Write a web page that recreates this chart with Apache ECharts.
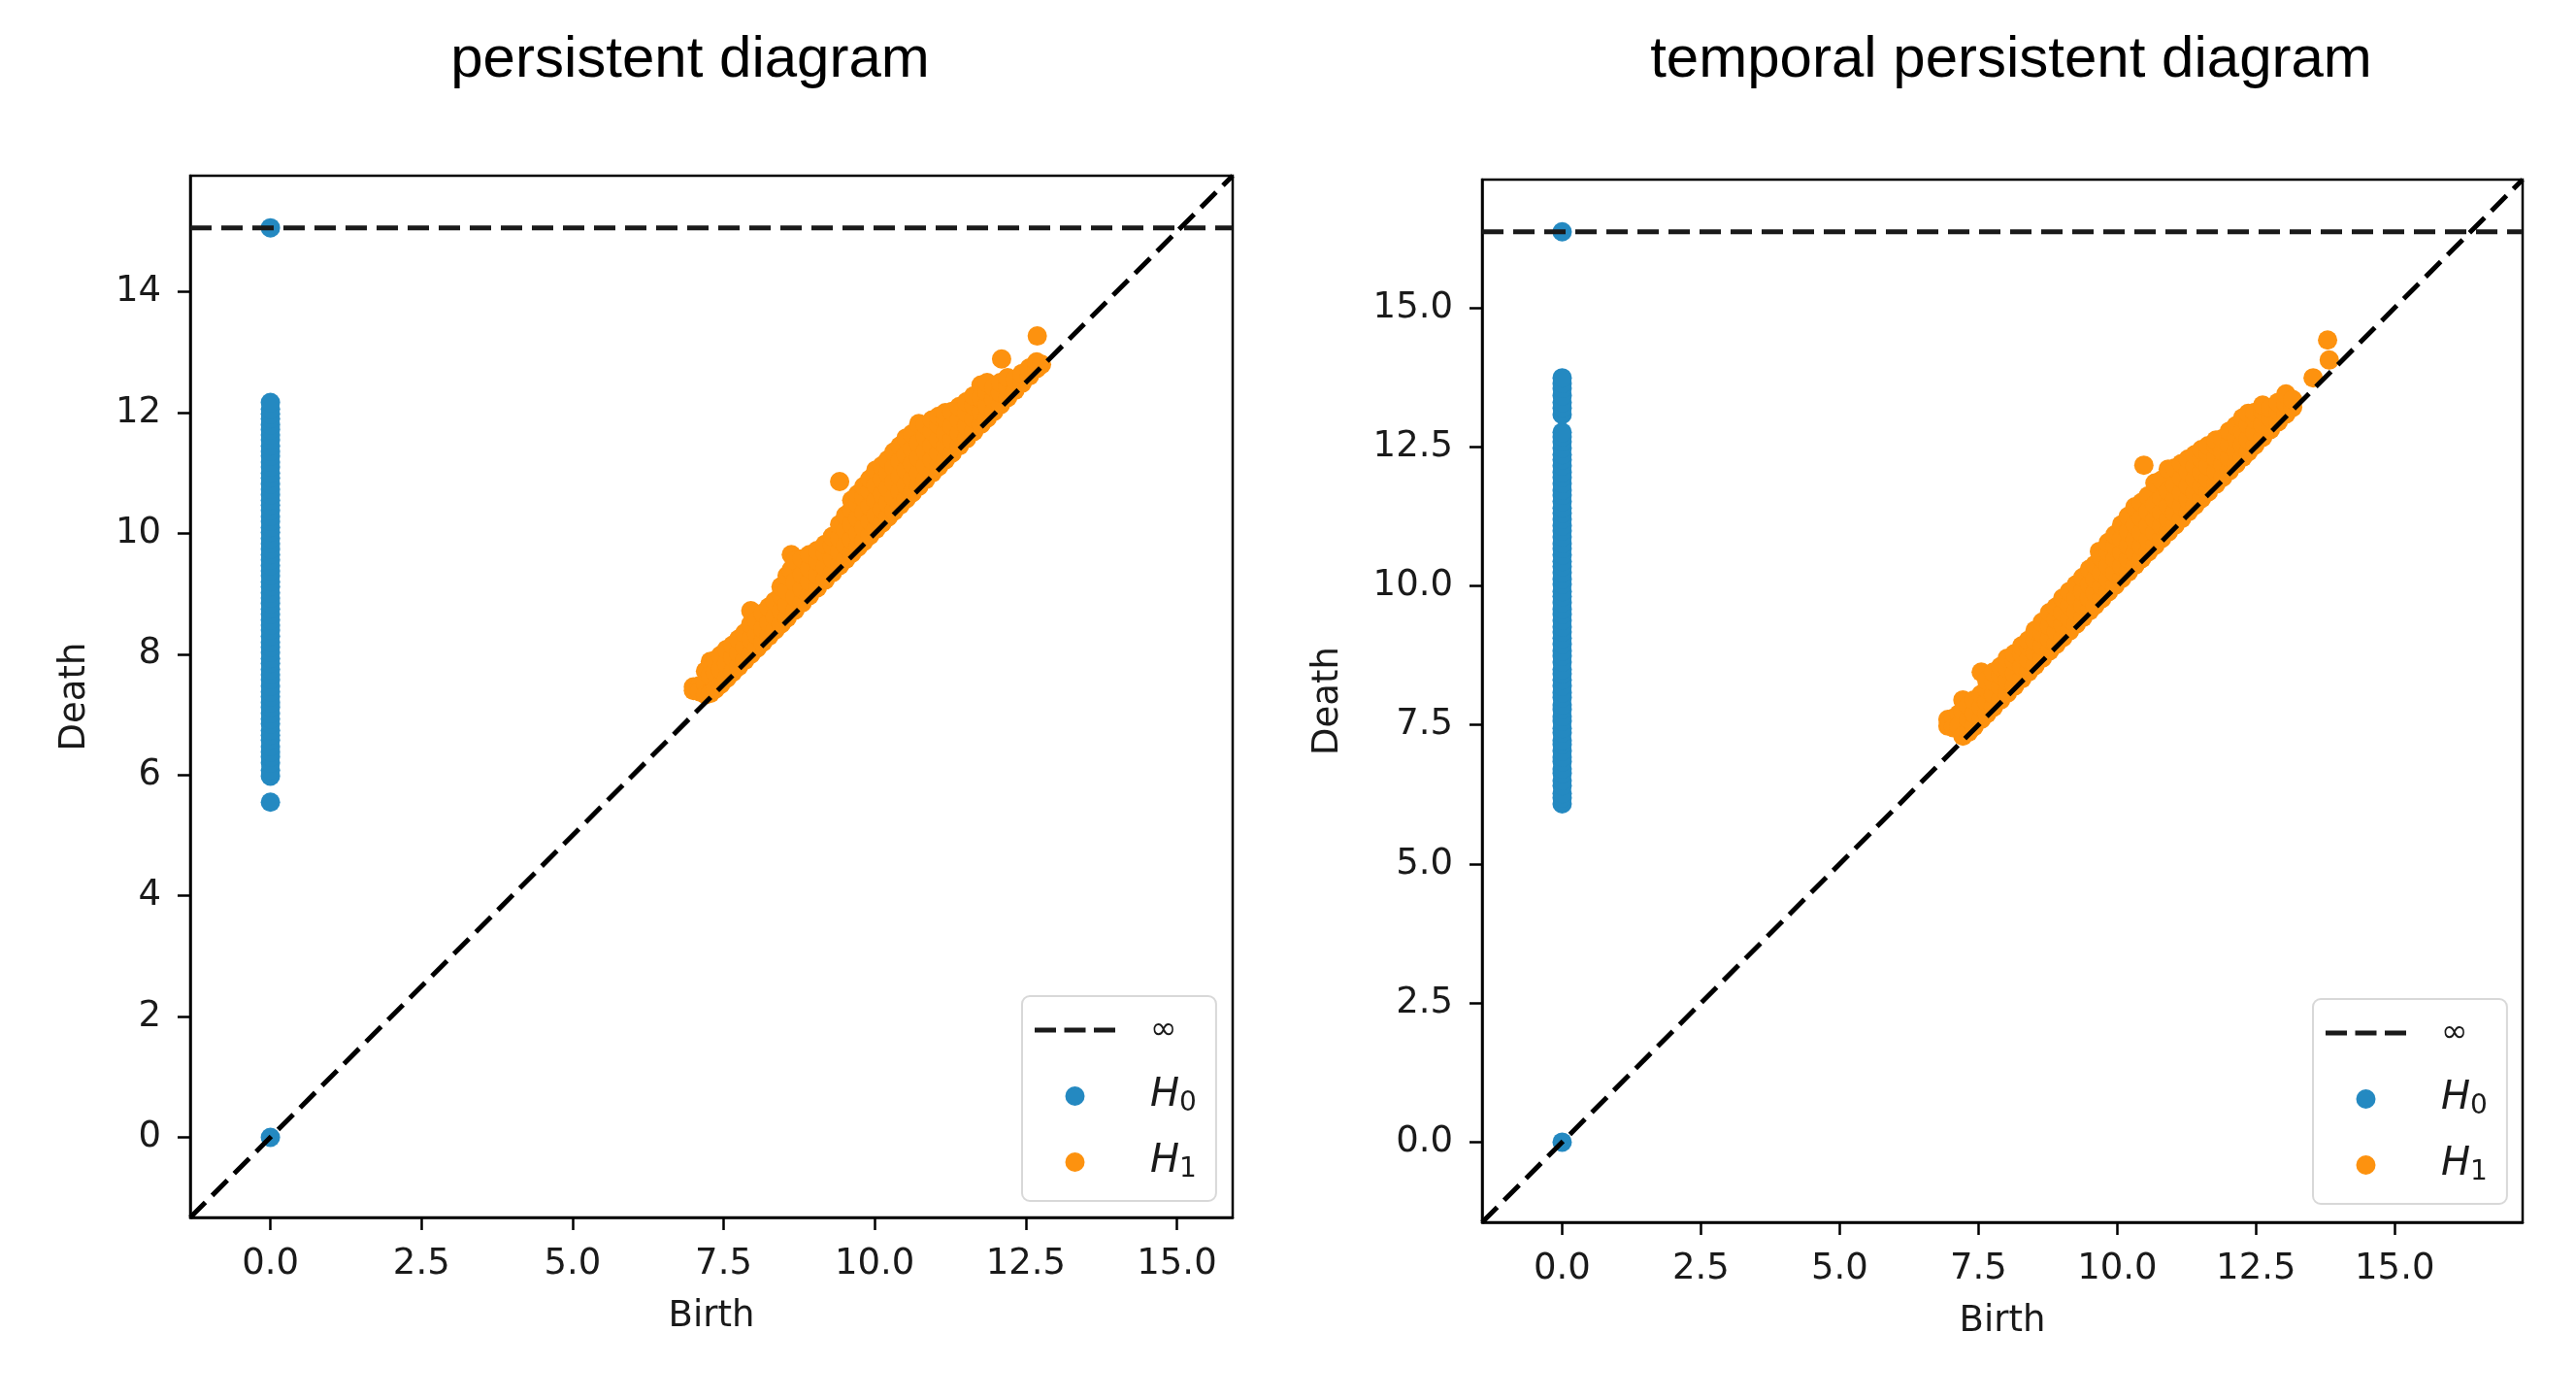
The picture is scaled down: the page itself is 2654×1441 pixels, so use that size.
<!DOCTYPE html>
<html>
<head>
<meta charset="utf-8">
<script src="https://cdn.jsdelivr.net/npm/echarts@6/dist/echarts.min.js"></script>
<style>
html,body{margin:0;padding:0;background:#ffffff;}
#c{width:2654px;height:1441px;}
</style>
</head>
<body>
<div id="c"></div>
<script>
// ---------- data ----------
const titles = ['persistent diagram', 'temporal persistent diagram'];
const legendNames = ['∞', 'H0', 'H1'];
const xTicks = [0, 2.5, 5, 7.5, 10, 12.5, 15];
const yTicksLeft = [0, 2, 4, 6, 8, 10, 12, 14];
const yTicksRight = [0, 2.5, 5, 7.5, 10, 12.5, 15];

// H0 deaths (birth = 0); Infinity = essential class
const h0DeathLeft = [0, 5.55, 5.98, 6.08, 6.2, 6.3, 6.38, 6.47, 6.58, 6.66, 6.74, 6.85, 6.93, 7.02, 7.12, 7.2, 7.3,
  7.38, 7.47, 7.58, 7.66, 7.75, 7.85, 7.93, 8.03, 8.12, 8.2, 8.3, 8.4, 8.48, 8.57, 8.66, 8.75, 8.84, 8.93, 9.02,
  9.12, 9.2, 9.3, 9.38, 9.47, 9.56, 9.65, 9.74, 9.83, 9.92, 10.02, 10.1, 10.2, 10.28, 10.38, 10.47, 10.55, 10.64,
  10.73, 10.82, 10.92, 11.0, 11.1, 11.18, 11.28, 11.36, 11.45, 11.55, 11.63, 11.72, 11.8, 11.9, 11.98, 12.06, 12.17,
  Infinity];
const h0DeathRight = [0, 6.08, 6.19, 6.27, 6.41, 6.5, 6.63, 6.71, 6.84, 6.92, 7.03, 7.15, 7.22, 7.36, 7.44, 7.57,
  7.65, 7.78, 7.86, 7.99, 8.08, 8.2, 8.31, 8.42, 8.5, 8.63, 8.74, 8.83, 8.95, 9.06, 9.17, 9.26, 9.38, 9.49, 9.58,
  9.7, 9.81, 9.9, 10.03, 10.12, 10.24, 10.35, 10.44, 10.56, 10.67, 10.76, 10.88, 10.99, 11.08, 11.2, 11.31, 11.4,
  11.52, 11.63, 11.72, 11.84, 11.95, 12.04, 12.16, 12.27, 12.36, 12.48, 12.59, 12.68, 12.76, 13.08, 13.2, 13.3,
  13.42, 13.55, 13.64, 13.74, Infinity];

// H1 points grouped by birth: [birth, [deaths...]]
const h1ColsLeft = [
  [7.00,[7.46,7.40]],[7.10,[7.48,7.38]],[7.20,[7.52,7.33,7.72]],[7.28,[7.88,7.65,7.35]],
  [7.36,[7.42,7.70,7.90]],[7.45,[7.50,7.75,7.98]],[7.55,[7.60,7.85,8.08]],[7.65,[7.70,7.95,8.15]],
  [7.75,[7.80,8.02,8.25]],[7.85,[7.90,8.12,8.35]],[7.95,[8.00,8.25,8.50,8.72]],[8.05,[8.10,8.32,8.55]],
  [8.15,[8.20,8.42,8.68]],[8.25,[8.30,8.52,8.78]],[8.35,[8.40,8.62,8.88]],[8.45,[8.50,8.72,8.98,9.12]],
  [8.55,[8.60,8.82,9.05,9.30]],[8.62,[9.40,9.65]],[8.68,[8.73,8.95,9.20,9.55]],[8.80,[8.85,9.08,9.32,9.58]],
  [8.92,[8.97,9.20,9.42,9.65]],[9.05,[9.10,9.32,9.55,9.72]],[9.18,[9.23,9.45,9.68,9.82]],
  [9.30,[9.35,9.58,9.80,9.95]],[9.42,[9.47,9.70,9.92,10.15,10.86]],[9.52,[9.57,9.80,10.05,10.30]],
  [9.62,[9.67,9.90,10.15,10.40,10.55]],[9.72,[9.77,10.00,10.25,10.50,10.65]],
  [9.82,[9.87,10.10,10.35,10.60,10.78]],[9.92,[9.97,10.20,10.45,10.70,10.90]],
  [10.02,[10.07,10.30,10.55,10.80,11.05]],[10.12,[10.17,10.40,10.65,10.90,11.12]],
  [10.22,[10.27,10.50,10.75,11.00,11.22]],[10.32,[10.37,10.60,10.85,11.10,11.35]],
  [10.42,[10.47,10.70,10.95,11.20,11.45]],[10.52,[10.57,10.80,11.05,11.30,11.58]],
  [10.62,[10.67,10.90,11.15,11.40,11.65]],[10.73,[10.78,11.00,11.25,11.50,11.82]],
  [10.84,[10.89,11.12,11.36,11.60,11.80]],[10.95,[11.00,11.22,11.46,11.70,11.88]],
  [11.06,[11.11,11.33,11.56,11.80,11.94]],[11.17,[11.22,11.44,11.66,11.90,12.00]],
  [11.28,[11.33,11.55,11.78,12.02]],[11.40,[11.45,11.66,11.88,12.10]],[11.52,[11.57,11.78,12.00,12.18]],
  [11.64,[11.69,11.90,12.12,12.28]],[11.76,[11.81,12.02,12.24,12.46]],[11.86,[11.91,12.12,12.34,12.50]],
  [11.97,[12.02,12.22,12.42]],[12.08,[12.13,12.33,12.50]],[12.10,[12.89]],[12.20,[12.25,12.44,12.58]],
  [12.32,[12.37,12.55]],[12.44,[12.49,12.65]],[12.56,[12.61,12.74]],[12.68,[12.73,12.84]],
  [12.69,[13.27]],[12.76,[12.80]]
];
const h1ColsRight = [
  [6.95,[7.60,7.48]],[7.05,[7.62,7.45]],[7.15,[7.70,7.48]],[7.22,[7.95,7.75,7.30]],
  [7.32,[7.37,7.60,7.85]],[7.42,[7.47,7.70,7.95]],[7.55,[7.60,7.82,8.05,8.45]],[7.65,[7.70,7.92,8.15,8.30]],
  [7.77,[7.82,8.05,8.28,8.45]],[7.90,[7.95,8.18,8.40,8.55]],[8.02,[8.07,8.30,8.52,8.70]],
  [8.15,[8.20,8.42,8.65,8.78]],[8.28,[8.33,8.55,8.78,8.92]],[8.40,[8.45,8.68,8.90,9.02]],
  [8.52,[8.57,8.80,9.02,9.20]],[8.65,[8.70,8.92,9.15,9.35]],[8.78,[8.83,9.05,9.28,9.52]],
  [8.90,[8.95,9.18,9.40,9.62]],[9.02,[9.07,9.30,9.52,9.78]],[9.14,[9.19,9.42,9.65,9.90]],
  [9.26,[9.31,9.54,9.78,10.02]],[9.38,[9.43,9.66,9.90,10.15]],[9.50,[9.55,9.78,10.02,10.30]],
  [9.60,[9.65,9.88,10.12,10.38]],[9.68,[10.62]],[9.72,[9.77,10.00,10.24,10.50]],
  [9.84,[9.89,10.12,10.36,10.62,10.78]],[9.96,[10.01,10.24,10.48,10.72,10.92]],
  [10.08,[10.13,10.36,10.60,10.85,11.10]],[10.20,[10.25,10.48,10.72,10.98,11.25]],
  [10.32,[10.37,10.60,10.84,11.10,11.42]],[10.44,[10.49,10.72,10.96,11.22,11.50]],[10.48,[12.17]],
  [10.56,[10.61,10.84,11.08,11.34,11.62]],[10.68,[10.73,10.96,11.20,11.46,11.85]],
  [10.80,[10.85,11.08,11.32,11.58,11.90]],[10.92,[10.97,11.20,11.44,11.70,12.10]],
  [11.04,[11.09,11.32,11.56,11.82,12.12]],[11.16,[11.21,11.44,11.68,11.94,12.20]],
  [11.28,[11.33,11.56,11.80,12.05,12.28]],[11.40,[11.45,11.68,11.92,12.15,12.36]],
  [11.52,[11.57,11.80,12.04,12.28,12.45]],[11.64,[11.69,11.92,12.16,12.40,12.52]],
  [11.78,[11.83,12.06,12.30,12.52,12.62]],[11.90,[11.95,12.18,12.42,12.65]],
  [12.02,[12.07,12.30,12.54,12.78]],[12.14,[12.19,12.42,12.66,12.88]],[12.26,[12.31,12.54,12.78,13.02]],
  [12.36,[12.41,12.64,12.90,13.10]],[12.48,[12.53,12.76,13.00,13.12]],[12.62,[12.67,12.90,13.15,13.25]],
  [12.76,[12.81,13.02,13.20]],[12.90,[12.95,13.15,13.30]],[13.04,[13.09,13.28,13.45]],
  [13.16,[13.21,13.35]],[13.53,[13.74]],[13.82,[14.06]],[13.79,[14.42]]
];

// ---------- build (persim-style layout of a persistence diagram) ----------
function buildPanel(h0Deaths, h1Cols) {
  const h1 = [];
  h1Cols.forEach(function (c) { c[1].forEach(function (d) { h1.push([c[0], d]); }); });
  const finite = [0];
  h0Deaths.forEach(function (d) { if (isFinite(d)) finite.push(d); });
  h1.forEach(function (p) { finite.push(p[0], p[1]); });
  const axMin = Math.min.apply(null, finite), axMax = Math.max.apply(null, finite);
  const buffer = (axMax - axMin) / 5;
  const lo = axMin - buffer / 2, hi = axMax + buffer;
  const bInf = lo + (hi - lo) * 0.95;
  const h0 = h0Deaths.map(function (d) { return [0, isFinite(d) ? d : bInf]; });
  return { h0: h0, h1: h1, lo: lo, hi: hi, bInf: bInf };
}
const panels = [buildPanel(h0DeathLeft, h1ColsLeft), buildPanel(h0DeathRight, h1ColsRight)];

const FONT = 'DejaVu Sans';
const TXT = '#1a1a1a';
const BLUE = '#2489c1';
const ORANGE = '#fd920f';
const grids = [
  { left: 196, top: 181, width: 1074, height: 1073 },
  { left: 1527, top: 185, width: 1072, height: 1074 }
];
const titleX = [711, 2072];
const legendPos = [{ left: 1053, top: 1026 }, { left: 2383, top: 1029 }];
const yTickSets = [yTicksLeft, yTicksRight];
const yFmt = [function (v) { return String(v); }, function (v) { return v.toFixed(1); }];
const yNameGap = [100, 140];

function axisCommon(p, ticks, fmt) {
  return {
    type: 'value', min: p.lo, max: p.hi,
    nameLocation: 'middle',
    nameTextStyle: { fontFamily: FONT, fontSize: 37, color: TXT },
    axisLine: { show: true, onZero: false, lineStyle: { color: '#000', width: 2.5 } },
    axisTick: { show: true, inside: false, length: 13, lineStyle: { color: '#000', width: 2.5 }, customValues: ticks },
    axisLabel: { show: true, margin: 30, fontFamily: FONT, fontSize: 37, color: TXT, customValues: ticks, formatter: fmt },
    splitLine: { show: false }
  };
}

const option = {
  backgroundColor: '#ffffff',
  animation: false,
  title: titles.map(function (t, i) {
    return { text: t, left: titleX[i], top: 32, padding: 0, textAlign: 'center',
      textStyle: { fontFamily: 'Liberation Sans', fontSize: 60, fontWeight: 'normal', color: '#000' } };
  }),
  grid: grids.map(function (g) {
    return Object.assign({ show: true, borderColor: '#000', borderWidth: 2.5, backgroundColor: 'transparent',
      containLabel: false, outerBoundsMode: 'none' }, g);
  }),
  xAxis: panels.map(function (p, i) {
    return Object.assign(axisCommon(p, xTicks, function (v) { return v.toFixed(1); }),
      { gridIndex: i, name: 'Birth', nameGap: 84 });
  }),
  yAxis: panels.map(function (p, i) {
    return Object.assign(axisCommon(p, yTickSets[i], yFmt[i]),
      { gridIndex: i, name: 'Death', nameGap: yNameGap[i] });
  }),
  legend: legendPos.map(function (pos) {
    return {
      left: pos.left, top: pos.top, orient: 'vertical', selectedMode: false,
      data: [
        { name: '∞', icon: 'path://M0,0h22v5h-22z M30.5,0h22v5h-22z M61,0h22v5h-22z' },
        { name: 'H0', icon: 'circle' },
        { name: 'H1', icon: 'circle' }
      ],
      itemWidth: 83, itemHeight: 20, itemGap: 24,
      padding: [13, 20, 18, 13],
      backgroundColor: 'rgba(255,255,255,0.85)', borderColor: '#d8d8d8', borderWidth: 2, borderRadius: 8,
      formatter: function (name) {
        if (name === '∞') return '{g|}{inf|∞}';
        return '{g|}{h|H}{s|' + name.slice(1) + '}';
      },
      textStyle: {
        color: TXT, fontFamily: FONT, fontSize: 37,
        rich: {
          g: { width: 31, height: 44, lineHeight: 44 },
          inf: { fontFamily: FONT, fontSize: 33, lineHeight: 44, color: TXT },
          h: { fontFamily: FONT, fontSize: 40, fontStyle: 'italic', lineHeight: 44, color: TXT },
          s: { fontFamily: FONT, fontSize: 28, lineHeight: 30, verticalAlign: 'bottom', color: TXT }
        }
      }
    };
  }),
  series: []
};

panels.forEach(function (p, i) {
  option.series.push({
    name: 'H0', type: 'scatter', xAxisIndex: i, yAxisIndex: i, data: p.h0,
    symbol: 'circle', symbolSize: 20, itemStyle: { color: BLUE, opacity: 1 }, z: 2, silent: true
  });
  option.series.push({
    name: 'H1', type: 'scatter', xAxisIndex: i, yAxisIndex: i, data: p.h1,
    symbol: 'circle', symbolSize: 20, itemStyle: { color: ORANGE, opacity: 1 }, z: 2, silent: true
  });
  option.series.push({
    name: '∞', type: 'line', xAxisIndex: i, yAxisIndex: i,
    data: [[p.lo, p.bInf], [p.hi, p.bInf]],
    showSymbol: false, symbol: 'none', itemStyle: { color: '#1a1a1a' },
    lineStyle: { color: '#1a1a1a', width: 5, type: [22, 10] }, z: 3, silent: true
  });
  option.series.push({
    name: 'diagonal', type: 'line', xAxisIndex: i, yAxisIndex: i,
    data: [[p.lo, p.lo], [p.hi, p.hi]],
    showSymbol: false, symbol: 'none', itemStyle: { color: '#000' },
    lineStyle: { color: '#000', width: 5, type: [22, 10] }, z: 3, silent: true
  });
});

const chart = echarts.init(document.getElementById('c'), null, { renderer: 'canvas' });
chart.setOption(option);
</script>
</body>
</html>
